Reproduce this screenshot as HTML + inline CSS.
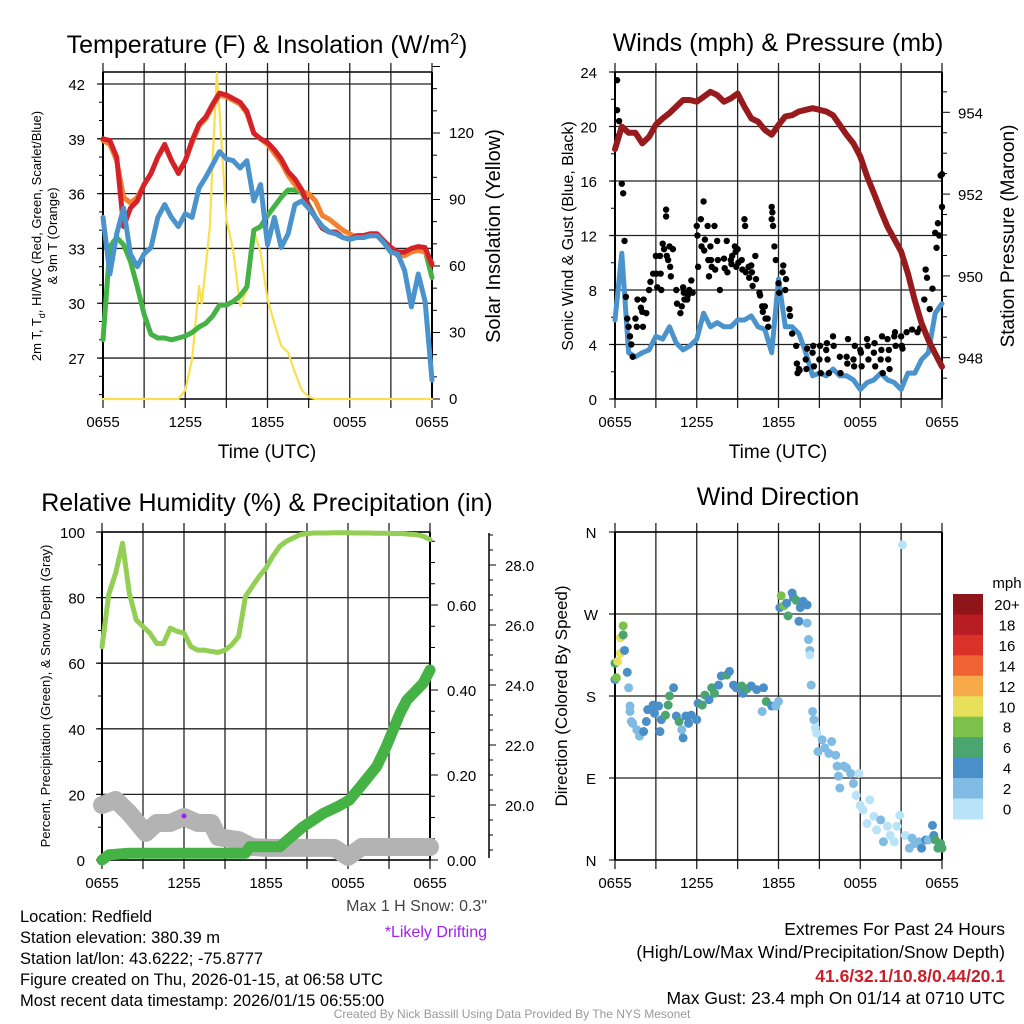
<!DOCTYPE html>
<html><head><meta charset="utf-8">
<style>
html,body{margin:0;padding:0;background:#fff;}
svg{display:block;font-family:"Liberation Sans",sans-serif;}
</style></head>
<body>
<svg id="fig" xmlns="http://www.w3.org/2000/svg" width="1024" height="1024" viewBox="0 0 1024 1024">
<rect width="1024" height="1024" fill="#fff"/>
<g id="p1"></g>
<g id="p2"></g>
<g id="p3"></g>
<g id="p4"></g>

<text x="267" y="53" font-size="25" text-anchor="middle">Temperature (F) &amp; Insolation (W/m<tspan dy="-9" font-size="16">2</tspan><tspan dy="9">)</tspan></text>
<text x="778" y="51" font-size="25" text-anchor="middle">Winds (mph) &amp; Pressure (mb)</text>
<text x="267" y="511" font-size="25" text-anchor="middle">Relative Humidity (%) &amp; Precipitation (in)</text>
<text x="778" y="505" font-size="25" text-anchor="middle">Wind Direction</text>

<text x="267" y="458" font-size="19" text-anchor="middle">Time (UTC)</text>
<text x="778" y="458" font-size="19" text-anchor="middle">Time (UTC)</text>

<text transform="translate(41,236) rotate(-90)" font-size="13" text-anchor="middle">2m T, T<tspan dy="4" font-size="9">d</tspan><tspan dy="-4">, HI/WC (Red, Green, Scarlet/Blue)</tspan></text>
<text transform="translate(57,236) rotate(-90)" font-size="13" text-anchor="middle">&amp; 9m T (Orange)</text>
<text transform="translate(500,236) rotate(-90)" font-size="20" text-anchor="middle">Solar Insolation (Yellow)</text>
<text transform="translate(573,236) rotate(-90)" font-size="16" text-anchor="middle">Sonic Wind &amp; Gust (Blue, Black)</text>
<text transform="translate(1014,236) rotate(-90)" font-size="19" text-anchor="middle">Station Pressure (Maroon)</text>
<text transform="translate(50,696) rotate(-90)" font-size="13" text-anchor="middle">Percent, Precipitation (Green), &amp; Snow Depth (Gray)</text>
<text transform="translate(567,696) rotate(-90)" font-size="17" text-anchor="middle">Direction (Colored By Speed)</text>

<g font-size="16.5">
<text x="20" y="922">Location: Redfield</text>
<text x="20" y="943">Station elevation: 380.39 m</text>
<text x="20" y="964">Station lat/lon: 43.6222; -75.8777</text>
<text x="20" y="985">Figure created on Thu, 2026-01-15, at 06:58 UTC</text>
<text x="20" y="1006">Most recent data timestamp: 2026/01/15 06:55:00</text>
</g>
<text x="487" y="911" font-size="16" fill="#444" text-anchor="end">Max 1 H Snow: 0.3"</text>
<text x="487" y="937" font-size="16" fill="#a020f0" text-anchor="end">*Likely Drifting</text>
<g font-size="17.5" text-anchor="end">
<text x="1005" y="935">Extremes For Past 24 Hours</text>
<text x="1005" y="958">(High/Low/Max Wind/Precipitation/Snow Depth)</text>
<text x="1005" y="982" fill="#c8202a" font-weight="bold">41.6/32.1/10.8/0.44/20.1</text>
<text x="1005" y="1004">Max Gust: 23.4 mph On 01/14 at 0710 UTC</text>
</g>
<text x="512" y="1018" font-size="12" fill="#999" text-anchor="middle">Created By Nick Bassill Using Data Provided By The NYS Mesonet</text>
</svg>
<script>
const NS="http://www.w3.org/2000/svg";
// ---------- data ----------
const timeLabels=["0655","1255","1855","0055","0655"];
const hours=[0,0.5,1,1.5,2,2.5,3,3.5,4,4.5,5,5.5,6,6.5,7,7.5,8,8.5,9,9.5,10,10.5,11,11.5,12,12.5,13,13.5,14,14.5,15,15.5,16,16.5,17,17.5,18,18.5,19,19.5,20,20.5,21,21.5,22,22.5,23,23.5,24];
const tempRed=[39,38.9,38,34.2,35.2,35.6,36.5,37.1,38,38.7,37.8,37.1,37.8,38.9,39.8,40.2,40.9,41.5,41.4,41.2,41,40.5,39.3,39,38.8,38.4,37.9,37.2,36.8,36.2,35.3,34.7,34.1,33.9,33.9,33.6,33.5,33.7,33.7,33.8,33.8,33.4,33.05,32.8,32.8,33,33.1,33.05,32.1];
const temp9m=[38.9,38.7,37.8,35.8,35.5,35.8,36.5,37.1,38,38.6,37.8,37.2,37.8,38.8,39.7,40.1,40.8,41.4,41.3,41.1,40.9,40.4,39.3,39,38.7,38.2,37.7,37,36.5,36.1,36,35.6,34.8,34.6,34.3,34,33.8,33.6,33.6,33.7,33.7,33.3,33,32.6,32.6,32.8,32.9,32.8,32.2];
const dewGreen=[28,33.1,33.6,33.2,32.3,30.9,29.4,28.3,28.1,28.1,28,28.1,28.2,28.4,28.7,28.9,29.3,29.9,29.9,30.1,30.4,30.9,34,34.2,34.8,35.3,35.8,36.2,36.2,36.05,35.4,34.7,34.2,33.9,33.8,33.6,33.5,33.6,33.6,33.7,33.7,33.3,32.8,32.7,32.8,32.9,33,32.9,31.4];
const windChill=[34.7,31.6,33.8,35.2,32.7,32,32.7,33.05,34.7,35.4,34.7,34.2,34.9,34.7,36.3,36.9,37.6,38.3,37.9,37.8,37.4,37.8,35.6,36.5,33.2,34.7,33.05,33.8,35.4,35.6,35.2,34.7,34.2,33.9,33.8,33.6,33.5,33.6,33.6,33.7,33.7,33.3,32.8,32.7,31.8,29.8,31.6,30.1,25.8];
const solarHours=[0,5.5,6,6.5,7,7.2,7.5,7.8,8,8.3,8.5,9,9.5,10,10.5,11,11.5,12,12.5,13,13.5,14,14.5,15,15.5,24];
const solar=[0,0,4,18,51,43,60,78,108,147,130,81,67,42,49,76,66,45,34,24,21,12,4,1,0,0];
const tempTicks=[42,39,36,33,30,27];
const solarTicks=[0,30,60,90,120];

const pressure=[953.1,953.65,953.5,953.5,953.24,953.4,953.7,953.85,953.98,954.14,954.3,954.3,954.26,954.38,954.5,954.42,954.26,954.34,954.46,954.14,953.85,953.77,953.57,953.45,953.69,953.9,953.93,954.02,954.06,954.1,954.06,954.02,953.93,953.69,953.45,953.24,952.92,952.43,952.02,951.6,951.2,950.9,950.6,950.06,949.4,948.84,948.43,948.1,947.78];
const windSpeed=[5.8,10.7,3.4,3.1,3.4,3.6,4.6,4.4,5.3,4.1,3.6,3.9,4.4,6.3,5.3,5.6,5.3,5.3,5.8,5.8,6.1,5.3,5.1,3.4,8.8,5.3,5.3,4.8,3.4,1.7,1.9,1.7,2.2,1.7,1.7,1.4,0.7,1.2,1.4,1.9,1.4,1.2,0.7,1.9,1.9,2.9,3.4,6.3,7.0];
const gustHours=[0.15,0.15,0.3,0.25,0.5,0.6,0.7,0.8,0.9,1.0,1.1,1.2,1.3,1.5,1.6,1.65,1.9,2.0,2.05,2.1,2.3,2.5,2.6,2.8,3.0,3.05,3.1,3.3,3.35,3.4,3.5,3.6,3.75,3.75,3.8,3.9,4.0,4.05,4.1,4.25,4.5,4.55,4.8,4.9,5.0,5.05,5.1,5.3,5.35,5.45,5.6,5.7,6.0,6.05,6.1,6.3,6.35,6.5,6.55,6.6,6.8,6.85,6.9,7.0,7.05,7.1,7.3,7.35,7.5,7.55,7.7,8.0,8.05,8.2,8.25,8.5,8.55,8.6,8.8,8.85,8.9,9.0,9.05,9.3,9.35,9.5,9.55,9.6,9.8,9.85,10.0,10.05,10.1,10.3,10.35,10.6,10.65,10.8,10.85,11.0,11.05,11.2,11.25,11.5,11.5,11.55,11.6,11.7,11.8,12.0,12.05,12.3,12.35,12.5,12.55,12.8,12.85,13.0,13.3,13.35,13.4,13.5,13.55,14.0,14.05,14.1,14.5,14.55,14.6,15.0,15.05,15.1,15.5,15.55,15.6,15.7,16.0,16.05,16.5,16.55,17.0,17.05,17.1,17.5,17.55,17.6,18.0,18.05,18.1,18.5,18.55,18.6,19.0,19.05,19.1,19.5,19.55,19.6,19.65,20.0,20.05,20.1,20.15,20.5,20.55,20.6,21.0,21.05,21.1,21.4,21.8,22.2,22.4,22.7,22.8,22.9,23.1,23.3,23.5,23.6,23.7,23.8,23.9,24.0,24.0];
const gusts=[23.4,21.2,20.4,19.3,15.8,15.1,11.6,7.5,5.9,5.3,4.6,4.0,3.1,5.9,5.3,7.3,6.7,6.4,5.3,7.3,6.3,8.0,8.6,9.2,10.5,9.2,8.2,10.5,9.2,8.0,11.4,11.0,13.9,13.4,10.5,10.2,11.2,9.7,9.0,11.0,8.0,7.0,6.3,6.8,8.2,7.8,7.3,7.3,7.6,8.0,8.7,7.8,12.7,12.0,9.7,13.2,11.2,14.5,10.9,11.7,12.7,10.2,9.0,11.2,10.2,9.7,12.7,9.5,11.6,10.2,8.0,10.3,9.6,11.6,9.3,10.2,9.9,10.5,11.2,10.8,9.7,11.0,10.0,10.2,9.5,13.2,12.7,9.3,9.7,8.9,9.8,9.3,8.3,10.5,8.8,7.8,7.6,6.8,6.4,6.8,5.9,5.9,5.3,13.2,14.1,13.7,12.7,11.2,10.2,8.5,7.8,9.3,9.8,8.0,8.8,6.6,6.1,4.8,3.9,2.6,1.9,2.2,2.1,2.9,2.2,3.7,3.4,3.9,2.4,2.9,3.9,1.9,3.6,4.1,2.9,1.9,4.6,3.9,3.1,1.9,3.1,2.6,4.4,2.9,2.4,3.9,3.6,3.4,2.4,4.4,3.9,2.9,3.4,4.1,2.4,2.9,3.6,4.6,1.9,4.4,2.9,3.6,2.2,4.6,4.9,3.9,4.6,3.9,3.7,4.9,5.1,4.9,5.2,7.3,9.5,8.9,6.6,8.1,12.2,11.1,12.9,12.0,16.4,16.5,14.1];
const windTicks=[0,4,8,12,16,20,24];
const pressureTicks=[948,950,952,954];

const rh=[65,81,87.5,96.6,81.4,73.2,71.2,69.2,66,66,70.7,69.7,69.2,65.1,64,64,63.6,63.3,64,65.6,68.2,80.4,83.4,86.5,89,92.6,95.6,97.2,98.2,99.2,99.5,99.7,99.7,99.7,99.8,99.8,99.8,99.7,99.7,99.7,99.6,99.6,99.6,99.5,99.5,99.3,99.2,98.7,97.7];
const precipHours=[0,0.5,2,10.5,10.8,13.0,13.5,14.7,16.2,17.2,18.1,19.1,20.1,20.8,21.3,21.8,22.3,23.5,24];
const precip=[0,0.012,0.016,0.016,0.031,0.031,0.045,0.078,0.11,0.125,0.141,0.18,0.22,0.267,0.306,0.345,0.376,0.416,0.447];
const snowHours=[0,1,2,3.2,4,5,6,7,8,8.5,10,11,12,14,16,17,18,19,20,22,24];
const snowDepth=[20.0,20.17,19.73,19.07,19.4,19.4,19.6,19.4,19.4,18.93,18.83,18.6,18.57,18.57,18.57,18.57,18.27,18.6,18.6,18.6,18.6];
const rhTicks=[0,20,40,60,80,100];
const precipTicks=[0,0.2,0.4,0.6];
const snowTicks=[20,22,24,26,28];

const dirHours=[0,0,0.1,0.2,0.4,0.4,0.6,0.6,0.7,0.9,1.0,1.1,1.1,1.2,1.3,1.6,1.8,2.1,2.3,2.4,2.8,2.9,3.2,3.3,3.4,3.7,3.9,4.0,4.3,4.5,4.7,4.9,5.0,5.2,5.4,5.6,6.0,6.1,6.4,6.6,6.9,7.1,7.3,7.6,7.8,8.2,8.4,8.7,8.9,9.3,9.4,9.7,10.0,10.4,10.8,10.9,11.1,11.5,11.8,12.0,12.1,12.2,12.4,12.6,12.7,13.0,13.1,13.3,13.5,13.6,13.8,14.1,14.1,14.2,14.3,14.3,14.4,14.5,14.6,14.7,14.8,14.9,15.2,15.4,15.7,15.9,16.2,16.3,16.4,16.5,16.8,17.0,17.3,17.5,17.7,17.9,18.0,18.2,18.5,18.7,19.0,19.2,19.5,19.7,20.0,20.2,20.5,20.7,20.9,21.1,21.3,21.6,21.8,22.0,22.3,22.5,22.8,23.0,23.3,23.4,23.5,23.7,23.9,24.0];
const directions=[216,198,200,218,227,244,247,257,230,206,189,169,163,152,150,143,136,141,152,165,170,161,169,141,154,159,170,180,189,158,152,143,134,158,150,159,154,172,170,181,176,189,183,192,202,203,207,192,189,191,183,188,191,187,163,189,174,169,169,174,277,290,279,282,268,293,288,285,262,277,284,280,260,242,230,225,192,163,154,145,139,119,132,123,117,130,115,103,92,79,103,101,95,84,71,95,60,55,40,66,48,33,44,20,37,27,20,37,49,346,27,13,24,18,20,13,22,22,38,27,22,13,18,13];
const dirSpeeds=[7,5,8,10,11,11,7,9,5,5,3,3,3,3,3,3,3,5,5,5,5,5,5,5,5,7,7,7,5,5,7,3,5,5,5,5,5,5,7,7,5,7,7,5,5,7,5,5,5,7,5,7,5,5,3,5,7,5,3,3,5,9,9,5,7,5,5,7,5,5,5,5,3,3,3,1,3,3,3,1,1,3,3,3,3,3,3,3,3,3,3,3,3,3,1,1,1,1,1,1,1,1,3,3,1,1,1,1,1,1,1,3,3,3,3,5,5,3,5,5,7,7,7,7];
const dirTickLabels=["N","E","S","W","N"];
const speedBins=["0","2","4","6","8","10","12","14","16","18","20+"];
const speedColors=["#b9e3f8","#80bbe4","#4a8fc7","#4aa66e","#7cc24a","#e6e05a","#f6aa4a","#ef6432","#da3229","#b81c24","#8e1519"];

// ---------- helpers ----------
function el(tag,attrs,parent){const e=document.createElementNS(NS,tag);for(const k in attrs)e.setAttribute(k,attrs[k]);parent.appendChild(e);return e;}
function line(p,x1,y1,x2,y2,c,w){return el("line",{x1:x1,y1:y1,x2:x2,y2:y2,stroke:c,"stroke-width":w},p);}
function txt(p,x,y,s,anchor,size){const t=el("text",{x:x,y:y,"font-size":size||15,"text-anchor":anchor||"middle"},p);t.textContent=s;return t;}
function path(p,xs,ys,fx,fy,c,w){let d="";for(let i=0;i<xs.length;i++)d+=(i?"L":"M")+fx(xs[i]).toFixed(1)+","+fy(ys[i]).toFixed(1);return el("path",{d:d,fill:"none",stroke:c,"stroke-width":w,"stroke-linejoin":"round","stroke-linecap":"round"},p);}
function frame(p,X0,X1,Y0,Y1,fx,hvals,fy){
  for(let h=0;h<=24;h+=3){const x=fx(h);const gl=line(p,x,Y0-9,x,Y1+9,"#222",1.3);
    
    }
  hvals.forEach(v=>{const y=fy(v);const gl=line(p,X0-6,y,X1,y,"#222",1.3);
    
    });
  line(p,X0,Y0,X1,Y0,"#000",1.5);line(p,X0,Y1,X1,Y1,"#000",1.5);
  line(p,X0,Y0,X0,Y1,"#000",2);line(p,X1,Y0,X1,Y1,"#000",2);
  timeLabels.forEach((s,i)=>{const t=txt(p,fx(i*6),427,s,"middle",15);t.setAttribute("y",Y1+28);
    
    });
}

// ---------- panel 1 ----------
(function(){
 const p=document.getElementById("p1");
 const X0=103,X1=432,Y0=72,Y1=399;
 const fx=h=>X0+h*(X1-X0)/24, fy=t=>84+(42-t)*18.27, fs=s=>399-s*2.2167;
 frame(p,X0,X1,Y0,Y1,fx,tempTicks,fy);
 for(let t=25;t<=42;t+=1){line(p,X0-4,fy(t),X0,fy(t),"#000",1);}
 tempTicks.forEach(t=>{const l=txt(p,85,fy(t)+6,String(t),"end",15);
   
   });
 for(let s=0;s<=150;s+=10){line(p,X1,fs(s),X1+(s%30?5:8),fs(s),"#000",1);}
 solarTicks.forEach(s=>{const l=txt(p,449,fs(s)+5,String(s),"start",15);
   
   });
 const sy=path(p,solarHours,solar,fx,fs,"#f8e04e",2.2);
 
 
 const g=path(p,hours,dewGreen,fx,fy,"#45b245",5);
 
 
 const o=path(p,hours,temp9m,fx,fy,"#f3812d",5);
 
 
 const r=path(p,hours,tempRed,fx,fy,"#d3222a",5);
 
 
 const b=path(p,hours,windChill,fx,fy,"#4a93cc",5);
 
 
})();

// ---------- panel 2 ----------
(function(){
 const p=document.getElementById("p2");
 const X0=615,X1=942,Y0=72,Y1=399;
 const fx=h=>X0+h*(X1-X0)/24, fy=v=>Y1-v*(Y1-Y0)/24, fp=m=>112.3+(954-m)*40.9;
 frame(p,X0,X1,Y0,Y1,fx,windTicks,fy);
 for(let v=0;v<=24;v+=2){line(p,X0-4,fy(v),X0,fy(v),"#000",1);}
 windTicks.forEach(v=>{const l=txt(p,597,fy(v)+6,String(v),"end",15);
   
   });
 for(let m=947.5;m<=954.8;m+=0.5){line(p,X1,fp(m),X1+(m%2?5:8),fp(m),"#000",1);}
 pressureTicks.forEach(m=>{const l=txt(p,958,fp(m)+6,String(m),"start",15);
   
   });
 const b=path(p,hours,windSpeed,fx,fy,"#4a93cc",5);
 
 
 for(let i=0;i<gusts.length;i++){
  const c=el("circle",{cx:fx(gustHours[i]),cy:fy(gusts[i]),r:3.2,fill:"#000"},p);
  
  
 }
 const m=path(p,hours,pressure,fx,fp,"#971a1c",6);
 
 
})();

// ---------- panel 3 ----------
(function(){
 const p=document.getElementById("p3");
 const X0=102,X1=430,Y0=532,Y1=860;
 const fx=h=>X0+h*(X1-X0)/24, fy=v=>Y1-v*3.28, fpr=v=>Y1-v*425, fsn=s=>805-(s-20)*30;
 frame(p,X0,X1,Y0,Y1,fx,rhTicks,fy);
 for(let v=0;v<=100;v+=10){line(p,X0-4,fy(v),X0,fy(v),"#000",1);}
 rhTicks.forEach(v=>{const l=txt(p,85,fy(v)+6,String(v),"end",15);
   
   });
 for(let v=0;v<=0.76;v+=0.05){line(p,X1,fpr(v),X1+(Math.abs(v*5-Math.round(v*5))<0.01?8:5),fpr(v),"#000",1);}
 precipTicks.forEach(v=>{const l=txt(p,447,fpr(v)+6,v.toFixed(2),"start",15);
   
   });
 const ax=line(p,489,533,489,858,"#000",1.5);
 
 
 for(let s=18.5;s<=29;s+=0.5){if(fsn(s)>533&&fsn(s)<858)line(p,489,fsn(s),489+(s%2===0?7:4),fsn(s),"#000",1);}
 snowTicks.forEach(s=>{const l=txt(p,505,fsn(s)+6,s.toFixed(1),"start",15);
   
   });
 const sn=path(p,snowHours,snowDepth,fx,fsn,"#b3b3b3",18);
 
 
 const dot=el("circle",{cx:fx(6),cy:816,r:2.5,fill:"#a020f0"},p);
 
 
 const pr=path(p,precipHours,precip,fx,fpr,"#45b245",11);
 
 
 const r=path(p,hours,rh,fx,fy,"#92cf54",5);
 
 
})();

// ---------- panel 4 ----------
(function(){
 const p=document.getElementById("p4");
 const X0=615,X1=942,Y0=532,Y1=860;
 const fx=h=>X0+h*(X1-X0)/24, fy=d=>Y1-d*(Y1-Y0)/360;
 frame(p,X0,X1,Y0,Y1,fx,[0,90,180,270,360],fy);
 [0,90,180,270,360].forEach((d,i)=>{const l=txt(p,591,fy(d)+6,dirTickLabels[i],"middle",15);
   
   });
 for(let i=0;i<directions.length;i++){
  const bin=Math.min(10,Math.floor(dirSpeeds[i]/2));
  const c=el("circle",{cx:fx(dirHours[i]),cy:fy(directions[i]),r:4.5,fill:speedColors[bin]},p);
  
  
 }
 const cb=el("g",{},p);
 
 
 const top=594,bh=20.45;
 for(let i=0;i<11;i++){
  const k=10-i;
  const r=el("rect",{x:953,y:top+i*bh,width:30,height:bh+0.5,fill:speedColors[k]},cb);
  
  
  const l=txt(cb,1007,top+i*bh+16,speedBins[k],"middle",15);
  
  
 }
 const u=txt(cb,1007,588,"mph","middle",15);
 
 
})();
</script>
</body></html>
